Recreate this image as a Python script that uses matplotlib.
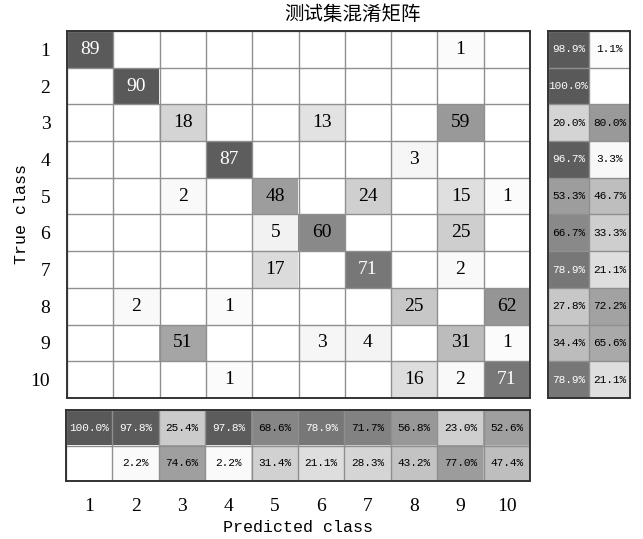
import numpy as np
import matplotlib

matplotlib.use('Agg')

import matplotlib.pyplot as plt

classes = ['1', '2', '3', '4', '5', '6', '7', '8', '9', '10']

# rows: true class, columns: predicted class
counts = np.array([
    [89, 0, 0, 0, 0, 0, 0, 0, 1, 0],
    [0, 90, 0, 0, 0, 0, 0, 0, 0, 0],
    [0, 0, 18, 0, 0, 13, 0, 0, 59, 0],
    [0, 0, 0, 87, 0, 0, 0, 3, 0, 0],
    [0, 0, 2, 0, 48, 0, 24, 0, 15, 1],
    [0, 0, 0, 0, 5, 60, 0, 0, 25, 0],
    [0, 0, 0, 0, 17, 0, 71, 0, 2, 0],
    [0, 2, 0, 1, 0, 0, 0, 25, 0, 62],
    [0, 0, 51, 0, 0, 3, 4, 0, 31, 1],
    [0, 0, 0, 1, 0, 0, 0, 16, 2, 71],
])

title = '测试集混淆矩阵'
xlabel = 'Predicted class'
ylabel = 'True class'

n = len(classes)
diag = np.diag(counts)
row_ok = diag / counts.sum(axis=1) * 100
col_ok = diag / counts.sum(axis=0) * 100
row_summary = np.column_stack([row_ok, 100 - row_ok])
col_summary = np.vstack([col_ok, 100 - col_ok])

num_font = 'Liberation Serif'
mono_font = 'Liberation Mono'


def shade(frac, k):
    g = 1 - k * np.power(frac, 0.85)
    return (g, g, g)


def cell_colors(vals, good_mask, scale, k_good, k_bad):
    rgb = np.ones(vals.shape + (3,))
    for idx in np.ndindex(vals.shape):
        v = vals[idx]
        if v <= 0:
            continue
        k = k_good if good_mask[idx] else k_bad
        rgb[idx] = shade(v / scale, k)
    return rgb


def grid_axes(ax, nrows, ncols):
    ax.set_xticks(np.arange(-0.5, ncols), minor=True)
    ax.set_yticks(np.arange(-0.5, nrows), minor=True)
    ax.grid(which='minor', color='#8f8f8f', linewidth=1.0)
    ax.tick_params(which='both', length=0)
    for s in ax.spines.values():
        s.set_linewidth(1.4)
        s.set_color('#333333')


fig = plt.figure(figsize=(6.43, 5.39), dpi=100)

# main matrix
ax = fig.add_axes([67 / 643, 1 - 398 / 539, 463 / 643, 367 / 539])
mask = np.eye(n, dtype=bool)
rgb = cell_colors(counts.astype(float), mask, counts.max(), 0.65, 0.57)
ax.imshow(rgb, aspect='auto', interpolation='nearest')
grid_axes(ax, n, n)
ax.set_xticks([])
ax.set_yticks(range(n))
ax.set_yticklabels(classes, fontfamily=num_font, fontsize=14)
ax.tick_params(axis='y', pad=12)
for i in range(n):
    for j in range(n):
        v = counts[i, j]
        if v == 0:
            continue
        tc = 'white' if rgb[i, j, 0] < 0.5 else 'black'
        ax.text(j, i, str(v), ha='center', va='center', color=tc,
                fontfamily=num_font, fontsize=14)

# row summary (true class)
axr = fig.add_axes([548 / 643, 1 - 398 / 539, 82 / 643, 367 / 539])
rmask = np.zeros((n, 2), dtype=bool)
rmask[:, 0] = True
rgb_r = cell_colors(row_summary, rmask, 100.0, 0.65, 0.48)
axr.imshow(rgb_r, aspect='auto', interpolation='nearest')
grid_axes(axr, n, 2)
axr.set_xticks([])
axr.set_yticks([])
for i in range(n):
    for j in range(2):
        p = row_summary[i, j]
        if p <= 0:
            continue
        tc = 'white' if rgb_r[i, j, 0] < 0.5 else 'black'
        axr.text(j, i, '%.1f%%' % p, ha='center', va='center', color=tc,
                 fontfamily=mono_font, fontsize=8)

# column summary (predicted class)
axb = fig.add_axes([66 / 643, 1 - 481 / 539, 464 / 643, 71 / 539])
bmask = np.zeros((2, n), dtype=bool)
bmask[0, :] = True
rgb_b = cell_colors(col_summary, bmask, 100.0, 0.65, 0.48)
axb.imshow(rgb_b, aspect='auto', interpolation='nearest')
grid_axes(axb, 2, n)
axb.set_yticks([])
axb.set_xticks(range(n))
axb.set_xticklabels(classes, fontfamily=num_font, fontsize=14)
axb.tick_params(axis='x', pad=12)
for i in range(2):
    for j in range(n):
        p = col_summary[i, j]
        if p <= 0:
            continue
        tc = 'white' if rgb_b[i, j, 0] < 0.5 else 'black'
        axb.text(j, i, '%.1f%%' % p, ha='center', va='center', color=tc,
                 fontfamily=mono_font, fontsize=8)

fig.text(352 / 643, 1 - 15 / 539, title, ha='center', va='center',
         fontfamily=['Noto Sans CJK SC', 'DejaVu Sans'], fontsize=14)
fig.text(298 / 643, 1 - 527 / 539, xlabel, ha='center', va='center',
         fontfamily=mono_font, fontsize=12)
fig.text(22 / 643, 1 - 214 / 539, ylabel, ha='center', va='center',
         rotation=90, fontfamily=mono_font, fontsize=12)

plt.savefig('out.png', dpi=100, facecolor='white')
